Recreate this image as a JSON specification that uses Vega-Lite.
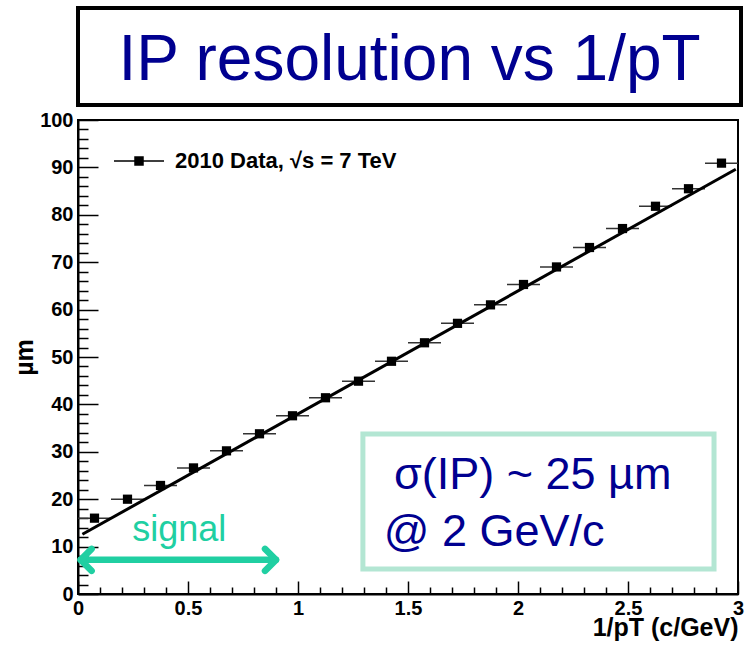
{
  "$schema": "https://vega.github.io/schema/vega-lite/v6.json",
  "padding": {"left": 11, "top": 6, "right": 0, "bottom": 0},
  "spacing": 2,
  "config": {
    "font": "Liberation Sans",
    "view": {"stroke": null},
    "axis": {"labelFont": "Liberation Sans", "titleFont": "Liberation Sans"}
  },
  "vconcat": [
    {
      "width": 663,
      "height": 97,
      "view": {"stroke": "black", "strokeWidth": 4, "fill": "white"},
      "data": {"values": [{"label": "IP resolution vs 1/pT"}]},
      "mark": {"type": "text", "fontSize": 64, "color": "#000090", "baseline": "middle", "dy": 4},
      "encoding": {"text": {"field": "label", "type": "nominal"}}
    },
    {
      "width": 660,
      "height": 474,
      "view": {"stroke": "black", "strokeWidth": 2},
      "encoding": {
        "x": {
          "type": "quantitative",
          "scale": {"domain": [0, 3], "nice": false, "zero": false},
          "axis": {
            "values": [0,0.1,0.2,0.3,0.4,0.5,0.6,0.7,0.8,0.9,1,1.1,1.2,1.3,1.4,1.5,1.6,1.7,1.8,1.9,2,2.1,2.2,2.3,2.4,2.5,2.6,2.7,2.8,2.9,3],
            "tickSize": {"condition": {"test": "abs(datum.value*2 - round(datum.value*2)) < 0.001", "value": -13}, "value": -7},
            "labelExpr": "abs(datum.value*2 - round(datum.value*2)) < 0.001 ? format(datum.value, '~g') : ''",
            "tickColor": "black",
            "tickWidth": 1.5,
            "domainColor": "black",
            "domainWidth": 2,
            "labelFontSize": 20,
            "labelFontWeight": "bold",
            "labelColor": "black",
            "labelPadding": 17,
            "labelFlush": false,
            "labelOverlap": false,
            "grid": false,
            "title": "1/pT (c/GeV)",
            "titleFontSize": 25,
            "titleFontWeight": "bold",
            "titleColor": "black",
            "titleAnchor": "end",
            "titlePadding": -9
          }
        },
        "y": {
          "type": "quantitative",
          "scale": {"domain": [0, 100], "nice": false, "zero": false},
          "axis": {
            "values": [0,2,4,6,8,10,12,14,16,18,20,22,24,26,28,30,32,34,36,38,40,42,44,46,48,50,52,54,56,58,60,62,64,66,68,70,72,74,76,78,80,82,84,86,88,90,92,94,96,98,100],
            "tickSize": {"condition": {"test": "datum.value % 10 === 0", "value": -20}, "value": -10},
            "labelExpr": "datum.value % 10 === 0 ? datum.label : ''",
            "tickColor": "black",
            "tickWidth": 1.5,
            "domainColor": "black",
            "domainWidth": 2,
            "labelFontSize": 20,
            "labelFontWeight": "bold",
            "labelColor": "black",
            "labelPadding": 25,
            "labelFlush": false,
            "labelOverlap": false,
            "grid": false,
            "title": "µm",
            "titleFontSize": 25,
            "titleFontWeight": "bold",
            "titleColor": "black",
            "titlePadding": 2
          }
        }
      },
      "layer": [
        {
          "data": {"values": [
            {"x": 0.075, "lo": 0.0, "hi": 0.15, "y": 16.0},
            {"x": 0.225, "lo": 0.15, "hi": 0.3, "y": 20.0},
            {"x": 0.375, "lo": 0.3, "hi": 0.45, "y": 22.9},
            {"x": 0.525, "lo": 0.45, "hi": 0.6, "y": 26.6},
            {"x": 0.675, "lo": 0.6, "hi": 0.75, "y": 30.2},
            {"x": 0.825, "lo": 0.75, "hi": 0.9, "y": 33.8},
            {"x": 0.975, "lo": 0.9, "hi": 1.05, "y": 37.6},
            {"x": 1.125, "lo": 1.05, "hi": 1.2, "y": 41.4},
            {"x": 1.275, "lo": 1.2, "hi": 1.35, "y": 44.9},
            {"x": 1.425, "lo": 1.35, "hi": 1.5, "y": 49.1},
            {"x": 1.575, "lo": 1.5, "hi": 1.65, "y": 53.0},
            {"x": 1.725, "lo": 1.65, "hi": 1.8, "y": 57.1},
            {"x": 1.875, "lo": 1.8, "hi": 1.95, "y": 61.0},
            {"x": 2.025, "lo": 1.95, "hi": 2.1, "y": 65.3},
            {"x": 2.175, "lo": 2.1, "hi": 2.25, "y": 69.0},
            {"x": 2.325, "lo": 2.25, "hi": 2.4, "y": 73.1},
            {"x": 2.475, "lo": 2.4, "hi": 2.55, "y": 77.1},
            {"x": 2.625, "lo": 2.55, "hi": 2.7, "y": 81.8},
            {"x": 2.775, "lo": 2.7, "hi": 2.85, "y": 85.5},
            {"x": 2.925, "lo": 2.85, "hi": 3.0, "y": 90.9}
          ]},
          "layer": [
            {
              "mark": {"type": "rule", "color": "#333333", "strokeWidth": 1.5},
              "encoding": {"x": {"field": "lo"}, "x2": {"field": "hi"}, "y": {"field": "y"}}
            },
            {
              "data": {"values": [{"fx": 0.02, "fy": 12.6}, {"fx": 2.99, "fy": 89.6}]},
              "mark": {"type": "line", "color": "black", "strokeWidth": 3},
              "encoding": {"x": {"field": "fx"}, "y": {"field": "fy"}}
            },
            {
              "transform": [{"calculate": "'2010 Data, √s = 7 TeV'", "as": "series"}],
              "mark": {"type": "point", "shape": "square", "filled": true, "size": 85, "opacity": 1},
              "encoding": {
                "x": {"field": "x"},
                "y": {"field": "y"},
                "color": {
                  "field": "series",
                  "type": "nominal",
                  "scale": {"range": ["black"]},
                  "legend": {
                    "orient": "none",
                    "legendX": 35,
                    "legendY": 127,
                    "title": null,
                    "padding": 0,
                    "labelFont": "Liberation Sans",
                    "labelFontSize": 22,
                    "labelFontWeight": "bold",
                    "labelColor": "black",
                    "labelOffset": 10,
                    "labelLimit": 400,
                    "symbolType": "M-1,0H-0.16M0.16,0H1M-0.16,-0.16H0.16V0.16H-0.16Z",
                    "symbolSize": 2500,
                    "symbolFillColor": "black",
                    "symbolStrokeColor": "black",
                    "symbolStrokeWidth": 1.5,
                    "symbolOpacity": 1
                  }
                }
              }
            }
          ]
        },
        {
          "data": {"values": [{}]},
          "mark": {"type": "rect", "fill": "white", "stroke": "#b3e6d3", "strokeWidth": 5},
          "encoding": {"x": {"datum": 1.295}, "x2": {"datum": 2.891}, "y": {"datum": 33.75}, "y2": {"datum": 5.27}}
        },
        {
          "data": {"values": [{}]},
          "mark": {"type": "text", "text": "σ(IP) ~ 25 µm", "align": "left", "baseline": "alphabetic", "fontSize": 45, "color": "#000090"},
          "encoding": {"x": {"datum": 1.436}, "y": {"datum": 22.15}}
        },
        {
          "data": {"values": [{}]},
          "mark": {"type": "text", "text": "@ 2 GeV/c", "align": "left", "baseline": "alphabetic", "fontSize": 45, "color": "#000090"},
          "encoding": {"x": {"datum": 1.39}, "y": {"datum": 10.1}}
        },
        {
          "data": {"values": [{}]},
          "mark": {"type": "text", "text": "signal", "align": "center", "baseline": "alphabetic", "fontSize": 36, "color": "#20cfa2"},
          "encoding": {"x": {"datum": 0.46}, "y": {"datum": 11.2}}
        },
        {
          "data": {"values": [{}]},
          "mark": {"type": "rule", "color": "#20cfa2", "strokeWidth": 6.5, "strokeCap": "round"},
          "encoding": {"x": {"datum": 0.012}, "x2": {"datum": 0.9}, "y": {"datum": 7.2}}
        },
        {
          "data": {"values": [{}]},
          "mark": {"type": "point", "shape": "M1,-1L0,0L1,1", "filled": false, "stroke": "#20cfa2", "strokeWidth": 6.5, "strokeCap": "round", "strokeJoin": "round", "size": 484, "opacity": 1},
          "encoding": {"x": {"datum": 0.012}, "y": {"datum": 7.2}}
        },
        {
          "data": {"values": [{}]},
          "mark": {"type": "point", "shape": "M-1,-1L0,0L-1,1", "filled": false, "stroke": "#20cfa2", "strokeWidth": 6.5, "strokeCap": "round", "strokeJoin": "round", "size": 484, "opacity": 1},
          "encoding": {"x": {"datum": 0.9}, "y": {"datum": 7.2}}
        }
      ]
    }
  ]
}
